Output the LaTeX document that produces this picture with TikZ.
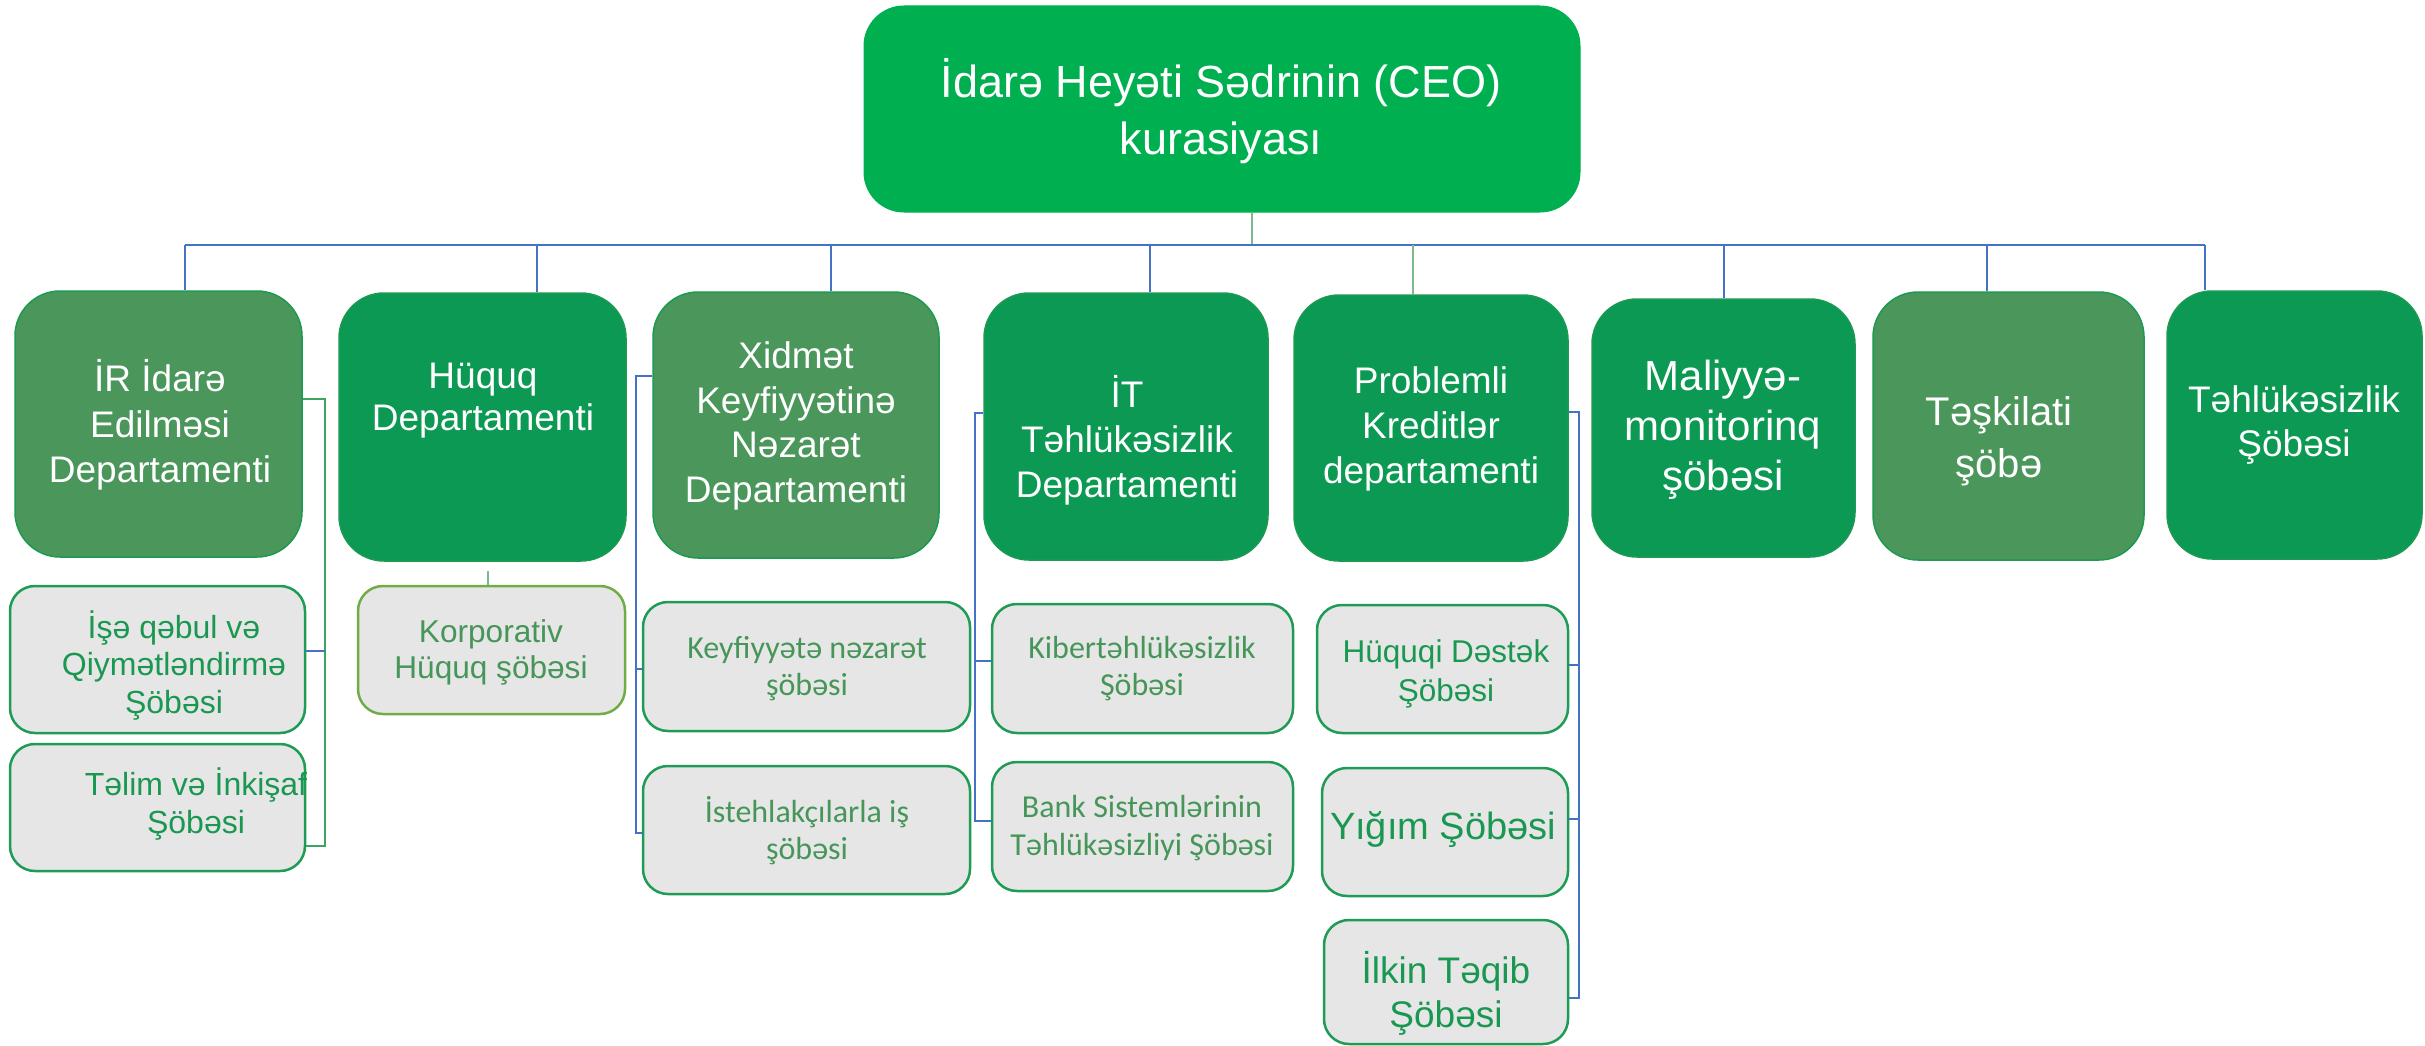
\documentclass[tikz,border=0pt]{standalone}
\usepackage{fontspec}
\setmainfont{Liberation Sans}
\newfontfamily\calfont{Carlito}
\definecolor{ceoGreen}{RGB}{0,176,80}
\definecolor{deptBright}{RGB}{11,153,83}
\definecolor{deptMuted}{RGB}{74,150,91}
\definecolor{deptBorder}{RGB}{28,154,82}
\definecolor{childFill}{RGB}{231,230,230}
\definecolor{childBorder}{RGB}{30,155,85}
\definecolor{korBorder}{RGB}{112,173,71}
\definecolor{childText}{RGB}{26,152,82}
\definecolor{mutedText}{RGB}{70,150,90}
\definecolor{linkBlue}{RGB}{68,114,196}
\definecolor{linkGray}{RGB}{125,185,140}
\definecolor{linkGreen}{RGB}{60,165,95}
\tikzset{
  ceobox/.style={rectangle, rounded corners=40pt, fill=ceoGreen, draw=ceoGreen, line width=1pt, inner sep=0pt},
  deptA/.style={rectangle, rounded corners=45pt, fill=deptBright, draw=deptBorder, line width=1.5pt, inner sep=0pt},
  deptB/.style={rectangle, rounded corners=45pt, fill=deptMuted, draw=deptBorder, line width=1.5pt, inner sep=0pt},
  childbox/.style={rectangle, rounded corners=25pt, fill=childFill, draw=childBorder, line width=2.5pt, inner sep=0pt},
  korbox/.style={rectangle, rounded corners=25pt, fill=childFill, draw=korBorder, line width=2.5pt, inner sep=0pt},
  wtext/.style={text=white, align=center, inner sep=0pt},
  gtext/.style={text=childText, align=center, inner sep=0pt},
  blueline/.style={draw=linkBlue, line width=2.5pt},
  grayline/.style={draw=linkGray, line width=1.5pt},
  greenline/.style={draw=linkGreen, line width=1.5pt},
}
\begin{document}
\begin{tikzpicture}[x=1pt, y=-1pt]
\useasboundingbox (0,0) rectangle (2425,1046);
% boxes
\node[ceobox, minimum width=716pt, minimum height=206pt] (ceo) at (1222,109) {};
\node[deptB, minimum width=287pt, minimum height=266pt] (ir) at (158.5,424) {};
\node[deptA, minimum width=287pt, minimum height=268pt] (huq) at (482.5,427) {};
\node[deptB, minimum width=286pt, minimum height=266pt] (xid) at (796,425) {};
\node[deptA, minimum width=284pt, minimum height=267pt] (it) at (1126,426.5) {};
\node[deptA, minimum width=274pt, minimum height=266pt] (prob) at (1431,428) {};
\node[deptA, minimum width=263pt, minimum height=258pt] (mal) at (1723.5,428) {};
\node[deptB, minimum width=271pt, minimum height=268pt] (tes) at (2008.5,426) {};
\node[deptA, minimum width=255pt, minimum height=268pt] (teh) at (2294.5,425) {};
\node[childbox, minimum width=295pt, minimum height=147pt] (ise) at (157.5,659.5) {};
\node[childbox, minimum width=295pt, minimum height=127pt] (tel) at (157.5,807.5) {};
\node[korbox, minimum width=267pt, minimum height=128pt] (kor) at (491.5,650) {};
\node[childbox, minimum width=327pt, minimum height=129pt] (key) at (806.5,666.5) {};
\node[childbox, minimum width=327pt, minimum height=128pt] (ist) at (806.5,830) {};
\node[childbox, minimum width=301pt, minimum height=129pt] (kib) at (1142.5,668.5) {};
\node[childbox, minimum width=301pt, minimum height=129pt] (bank) at (1142.5,826.5) {};
\node[childbox, minimum width=251pt, minimum height=128pt] (hd) at (1442.5,669) {};
\node[childbox, minimum width=246pt, minimum height=128pt] (yig) at (1445,832) {};
\node[childbox, minimum width=244pt, minimum height=124pt] (ilk) at (1446,982) {};
% texts
\node[wtext, font=\fontsize{45}{57}\selectfont] (ceot) at (1221,111) {İdarə Heyəti Sədrinin (CEO)\\kurasiyası};
\node[wtext, font=\fontsize{37}{45.5}\selectfont] (irt) at (160,425) {İR İdarə\\Edilməsi\\Departamenti};
\node[wtext, font=\fontsize{37}{42}\selectfont] (huqt) at (483,401) {Hüquq\\Departamenti};
\node[wtext, font=\fontsize{37}{44.8}\selectfont] (xidt) at (796,426) {Xidmət\\Keyfiyyətinə\\Nəzarət\\Departamenti};
\node[wtext, font=\fontsize{37}{45}\selectfont] (itt) at (1127,440) {İT\\Təhlükəsizlik\\Departamenti};
\node[wtext, font=\fontsize{37}{45}\selectfont] (probt) at (1431,429) {Problemli\\Kreditlər\\departamenti};
\node[wtext, font=\fontsize{42}{50}\selectfont] (malt) at (1723,430) {Maliyyə-\\monitorinq\\şöbəsi};
\node[wtext, font=\fontsize{40}{52}\selectfont] (test) at (1999,441) {Təşkilati\\şöbə};
\node[wtext, font=\fontsize{37}{44}\selectfont] (teht) at (2294,425) {Təhlükəsizlik\\Şöbəsi};
\node[gtext, font=\fontsize{32}{37.5}\selectfont] (iset) at (174,665.5) {İşə qəbul və\\Qiymətləndirmə\\Şöbəsi};
\node[gtext, font=\fontsize{32}{38}\selectfont] (telt) at (196,804) {Təlim və İnkişaf\\Şöbəsi};
\node[gtext, text=mutedText, font=\fontsize{31.6}{36}\selectfont] (kort) at (491,652) {Korporativ\\Hüquq şöbəsi};
\node[gtext, text=mutedText, font=\calfont\fontsize{32}{37}\selectfont] (keyt) at (807,668.5) {Keyfiyyətə nəzarət\\şöbəsi};
\node[gtext, text=mutedText, font=\calfont\fontsize{32}{37}\selectfont] (istt) at (807,830.5) {İstehlakçılarla iş\\şöbəsi};
\node[gtext, text=mutedText, font=\calfont\fontsize{32}{37}\selectfont] (kibt) at (1142,668.5) {Kibertəhlükəsizlik\\Şöbəsi};
\node[gtext, text=mutedText, font=\calfont\fontsize{32}{38}\selectfont] (bankt) at (1142,828) {Bank Sistemlərinin\\Təhlükəsizliyi Şöbəsi};
\node[gtext, font=\fontsize{31.5}{39}\selectfont] (hdt) at (1446,673.5) {Hüquqi Dəstək\\Şöbəsi};
\node[gtext, font=\fontsize{38}{44}\selectfont] (yigt) at (1443,830) {Yığım Şöbəsi};
\node[gtext, font=\fontsize{37}{44}\selectfont] (ilkt) at (1446,993) {İlkin Təqib\\Şöbəsi};
% bus and drops
\coordinate (busL) at (185,245);
\coordinate (busR) at (2205,245);
\coordinate (stemB) at (1252,245);
\coordinate (dHuq) at (537,245);
\coordinate (dXid) at (831,245);
\coordinate (dIt) at (1150,245);
\coordinate (dProb) at (1413,245);
\coordinate (dMal) at (1724,245);
\coordinate (dTes) at (1987,245);
\draw[grayline] (stemB |- ceo.south) -- (stemB);
\draw[blueline] (busL) -- (busR);
\draw[blueline] (busL) -- (busL |- ir.north);
\draw[blueline] (dHuq) -- (dHuq |- huq.north);
\draw[blueline] (dXid) -- (dXid |- xid.north);
\draw[blueline] (dIt) -- (dIt |- it.north);
\draw[grayline] (dProb) -- (dProb |- prob.north);
\draw[blueline] (dMal) -- (dMal |- mal.north);
\draw[blueline] (dTes) -- (dTes |- tes.north);
\draw[blueline] (busR) -- (busR |- teh.north);
% IR bracket
\coordinate (irb1) at (325,399);
\coordinate (irb2) at (325,846);
\coordinate (irb3) at (325,651);
\draw[greenline] (ir.east |- irb1) -- (irb1) -- (irb2) -- (tel.east |- irb2);
\draw[blueline] (ise.east |- irb3) -- (irb3);
% Hukuk stem
\coordinate (hs) at (488,571);
\draw[grayline] (hs) -- (hs |- kor.north);
% Xidmet bracket
\coordinate (xb1) at (636,376);
\coordinate (xb2) at (636,833);
\coordinate (xb3) at (636,669);
\draw[blueline] (xid.west |- xb1) -- (xb1) -- (xb2) -- (ist.west |- xb2);
\draw[blueline] (xb3) -- (key.west |- xb3);
% IT bracket
\coordinate (ib1) at (975,413);
\coordinate (ib2) at (975,821);
\coordinate (ib3) at (975,661);
\draw[blueline] (it.west |- ib1) -- (ib1) -- (ib2) -- (bank.west |- ib2);
\draw[blueline] (ib3) -- (kib.west |- ib3);
% Problemli bracket
\coordinate (pb1) at (1579,412);
\coordinate (pb2) at (1579,998);
\coordinate (pb3) at (1579,665);
\coordinate (pb4) at (1579,819);
\draw[blueline] (prob.east |- pb1) -- (pb1) -- (pb2) -- (ilk.east |- pb2);
\draw[blueline] (pb3) -- (hd.east |- pb3);
\draw[blueline] (pb4) -- (yig.east |- pb4);
\end{tikzpicture}
\end{document}
